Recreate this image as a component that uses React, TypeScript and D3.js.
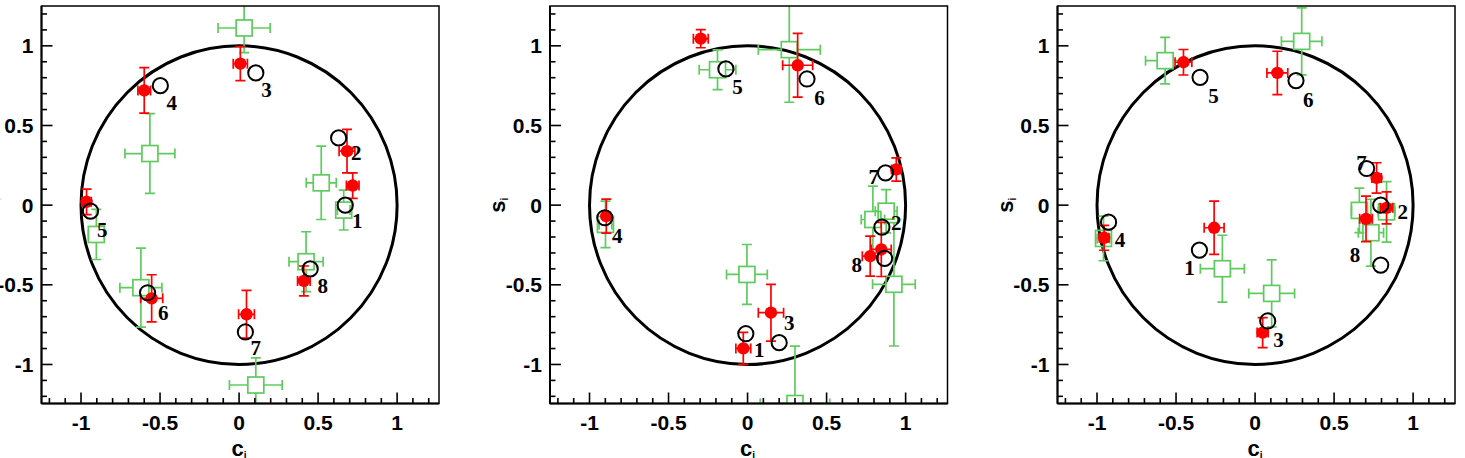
import React from "react";
import * as d3 from "d3";

// layout of the three frames
const W = 1465;
const H = 458;
const panelLeft = [41.5, 550, 1057.5];
const frameW = 397.5;
const frameTop = 6;
const frameBottom = 403.5;
const xDomain: [number, number] = [-1.25, 1.265];
const yDomain: [number, number] = [-1.245, 1.25];

const majorTicks = [-1, -0.5, 0, 0.5, 1];
const tickLabels = ["-1", "-0.5", "0", "0.5", "1"];
const minorTicks = [
  -1.2, -1.1, -0.9, -0.8, -0.7, -0.6, -0.4, -0.3, -0.2, -0.1, 0.1, 0.2, 0.3,
  0.4, 0.6, 0.7, 0.8, 0.9, 1.1, 1.2,
];

// open black circles (numbered 1..8): [c, s]
const open1: [number, number][] = [
  [0.672, 0.0], [0.63, 0.422], [0.106, 0.83], [-0.498, 0.75],
  [-0.94, -0.038], [-0.579, -0.55], [0.04, -0.796], [0.45, -0.4],
];
const open2: [number, number][] = [
  [-0.011, -0.807], [0.85, -0.138], [0.2, -0.863], [-0.903, -0.079],
  [-0.137, 0.855], [0.376, 0.792], [0.873, 0.203], [0.867, -0.334],
];
const open3: [number, number][] = [
  [-0.352, -0.282], [0.795, 0.0], [0.08, -0.727], [-0.927, -0.107],
  [-0.348, 0.802], [0.259, 0.782], [0.706, 0.23], [0.795, -0.376],
];

// number labels, placed next to the open circles: [c, s]
const numbers = ["1", "2", "3", "4", "5", "6", "7", "8"];
const label1: [number, number][] = [
  [0.747, -0.1], [0.742, 0.328], [0.174, 0.725], [-0.426, 0.642],
  [-0.865, -0.153], [-0.479, -0.675], [0.106, -0.894], [0.53, -0.508],
];
const label2: [number, number][] = [
  [0.074, -0.905], [0.941, -0.107], [0.264, -0.738], [-0.825, -0.194],
  [-0.063, 0.742], [0.455, 0.673], [0.799, 0.182], [0.691, -0.372],
];
const label3: [number, number][] = [
  [-0.415, -0.393], [0.934, -0.038], [0.148, -0.842], [-0.854, -0.219],
  [-0.263, 0.688], [0.337, 0.662], [0.674, 0.265], [0.632, -0.309],
];

// red filled points: [c, s, errC, errS]
const red1: [number, number, number, number][] = [
  [0.683, 0.339, 0.05, 0.136], [0.719, 0.123, 0.04, 0.08],
  [0.008, 0.888, 0.045, 0.107], [-0.6, 0.72, 0.04, 0.143],
  [-0.965, 0.021, 0.03, 0.08], [-0.553, -0.585, 0.07, 0.148],
  [0.047, -0.685, 0.05, 0.15], [0.41, -0.476, 0.04, 0.094],
];
const red2: [number, number, number, number][] = [
  [-0.296, 1.045, 0.047, 0.057], [0.317, 0.878, 0.095, 0.2],
  [0.941, 0.224, 0.03, 0.073], [-0.894, -0.069, 0.02, 0.107],
  [0.846, -0.278, 0.063, 0.17], [0.776, -0.32, 0.05, 0.125],
  [0.148, -0.675, 0.08, 0.178], [-0.027, -0.899, 0.047, 0.1],
];
const red3: [number, number, number, number][] = [
  [-0.453, 0.897, 0.053, 0.08], [0.141, 0.83, 0.066, 0.136],
  [0.769, 0.171, 0.03, 0.095], [0.832, -0.017, 0.04, 0.1],
  [0.702, -0.086, 0.04, 0.143], [-0.259, -0.142, 0.063, 0.167],
  [-0.955, -0.205, 0.03, 0.078], [0.048, -0.8, 0.035, 0.094],
];

// green open squares: [c, s, errC, errS]
const green1: [number, number, number, number][] = [
  [0.032, 1.112, 0.165, 0.155], [-0.564, 0.324, 0.158, 0.25],
  [0.52, 0.14, 0.095, 0.23], [0.662, -0.031, 0.04, 0.125],
  [-0.903, -0.184, 0.05, 0.157], [0.424, -0.355, 0.108, 0.188],
  [-0.621, -0.518, 0.133, 0.248], [0.106, -1.129, 0.167, 0.17],
];
const green2: [number, number, number, number][] = [
  [-0.19, 0.85, 0.116, 0.125], [0.264, 0.976, 0.196, 0.33],
  [0.793, -0.09, 0.074, 0.21], [0.877, -0.038, 0.069, 0.136],
  [-0.899, -0.121, 0.04, 0.146], [-0.004, -0.435, 0.129, 0.188],
  [0.926, -0.497, 0.135, 0.387], [0.3, -1.245, 0.22, 0.36],
];
const green3: [number, number, number, number][] = [
  [-0.569, 0.907, 0.124, 0.146], [0.295, 1.028, 0.128, 0.21],
  [0.66, -0.033, 0.05, 0.14], [0.832, -0.042, 0.053, 0.19],
  [0.733, -0.173, 0.08, 0.21], [-0.959, -0.209, 0.04, 0.14],
  [-0.207, -0.399, 0.139, 0.21], [0.105, -0.554, 0.145, 0.21],
];

const panels = [
  { open: open1, labels: label1, red: red1, green: green1 },
  { open: open2, labels: label2, red: red2, green: green2 },
  { open: open3, labels: label3, red: red3, green: green3 },
];

const RED = "#ff0000";
const GREEN = "#5fcb5f";
const SANS = "'Liberation Sans', Arial, sans-serif";
const SERIF = "'Liberation Serif', 'Times New Roman', serif";

function ErrorPoint({
  cx, cy, x1, x2, y1, y2, gap, color,
}: {
  cx: number; cy: number; x1: number; x2: number; y1: number; y2: number;
  gap: number; color: string;
}) {
  const cap = 5;
  return (
    <g stroke={color} strokeWidth={1.7} fill="none">
      <line x1={x1} y1={cy} x2={cx - gap} y2={cy} />
      <line x1={cx + gap} y1={cy} x2={x2} y2={cy} />
      <line x1={cx} y1={y1} x2={cx} y2={cy - gap} />
      <line x1={cx} y1={cy + gap} x2={cx} y2={y2} />
      <line x1={x1} y1={cy - cap} x2={x1} y2={cy + cap} />
      <line x1={x2} y1={cy - cap} x2={x2} y2={cy + cap} />
      <line x1={cx - cap} y1={y1} x2={cx + cap} y2={y1} />
      <line x1={cx - cap} y1={y2} x2={cx + cap} y2={y2} />
    </g>
  );
}

function Panel({ index }: { index: number }) {
  const p = panels[index];
  const left = panelLeft[index];
  const right = left + frameW;
  const x = d3.scaleLinear().domain(xDomain).range([left, right]);
  const y = d3.scaleLinear().domain(yDomain).range([frameBottom, frameTop]);
  const clipId = `frame-clip-${index}`;
  const sq = 8;

  return (
    <g>
      <defs>
        <clipPath id={clipId}>
          <rect x={left} y={frameTop} width={frameW} height={frameBottom - frameTop} />
        </clipPath>
      </defs>

      <g clipPath={`url(#${clipId})`}>
        {/* unit circle */}
        <ellipse
          cx={x(0)}
          cy={y(0)}
          rx={x(1) - x(0)}
          ry={y(0) - y(1)}
          fill="none"
          stroke="#000"
          strokeWidth={3}
        />

        {/* green squares */}
        {p.green.map(([c, s, ec, es], i) => (
          <g key={`g${i}`}>
            <ErrorPoint
              cx={x(c)} cy={y(s)} x1={x(c - ec)} x2={x(c + ec)}
              y1={y(s + es)} y2={y(s - es)} gap={sq} color={GREEN}
            />
            <rect
              x={x(c) - sq} y={y(s) - sq} width={2 * sq} height={2 * sq}
              fill="none" stroke={GREEN} strokeWidth={1.7}
            />
          </g>
        ))}

        {/* red filled points */}
        {p.red.map(([c, s, ec, es], i) => (
          <g key={`r${i}`}>
            <ErrorPoint
              cx={x(c)} cy={y(s)} x1={x(c - ec)} x2={x(c + ec)}
              y1={y(s + es)} y2={y(s - es)} gap={0} color={RED}
            />
            <circle cx={x(c)} cy={y(s)} r={6.2} fill={RED} />
          </g>
        ))}

        {/* black open circles */}
        {p.open.map(([c, s], i) => (
          <circle
            key={`o${i}`}
            cx={x(c)} cy={y(s)} r={7.6}
            fill="none" stroke="#000" strokeWidth={2}
          />
        ))}
      </g>

      {/* numbers */}
      {p.labels.map(([c, s], i) => (
        <text
          key={`l${i}`}
          x={x(c)}
          y={y(s)}
          dy="0.35em"
          textAnchor="middle"
          fontFamily={SERIF}
          fontWeight="bold"
          fontSize={21}
          fill="#000"
        >
          {numbers[i]}
        </text>
      ))}

      {/* frame */}
      <rect
        x={left} y={frameTop} width={frameW} height={frameBottom - frameTop}
        fill="none" stroke="#000" strokeWidth={1.5}
      />
      <line x1={left} y1={frameBottom} x2={right} y2={frameBottom} stroke="#000" strokeWidth={2} />
      <line x1={left} y1={frameTop} x2={left} y2={frameBottom} stroke="#000" strokeWidth={2} />

      {/* ticks, pointing inward */}
      <g stroke="#000" strokeWidth={1.6}>
        {majorTicks.map((t) => (
          <g key={`M${t}`}>
            <line x1={x(t)} y1={frameBottom} x2={x(t)} y2={frameBottom - 11} />
            <line x1={left} y1={y(t)} x2={left + 11} y2={y(t)} />
          </g>
        ))}
        {minorTicks.map((t) => (
          <g key={`m${t}`}>
            <line x1={x(t)} y1={frameBottom} x2={x(t)} y2={frameBottom - 5.5} />
            <line x1={left} y1={y(t)} x2={left + 5.5} y2={y(t)} />
          </g>
        ))}
      </g>

      {/* tick labels */}
      <g fontFamily={SANS} fontWeight="bold" fontSize={21} fill="#000">
        {majorTicks.map((t, i) => (
          <text key={`xl${t}`} x={x(t)} y={430} textAnchor="middle">
            {tickLabels[i]}
          </text>
        ))}
        {majorTicks.map((t, i) => (
          <text key={`yl${t}`} x={left - 8} y={y(t)} dy="0.36em" textAnchor="end">
            {tickLabels[i]}
          </text>
        ))}
      </g>

      {/* axis titles */}
      <text
        x={x(0)}
        y={456}
        textAnchor="middle"
        fontFamily={SANS}
        fontWeight="bold"
        fontSize={22}
        fill="#000"
      >
        c<tspan fontSize={10} dy={3}>i</tspan>
      </text>
      <text
        transform={`translate(${left - 45},${y(0)}) rotate(-90)`}
        textAnchor="middle"
        fontFamily={SANS}
        fontWeight="bold"
        fontSize={22}
        fill="#000"
      >
        s<tspan fontSize={10} dy={3}>i</tspan>
      </text>
    </g>
  );
}

export default function App() {
  return (
    <div style={{ position: "absolute", left: 0, top: 0, width: W, height: H, background: "#fff" }}>
      <svg width={W} height={H} viewBox={`0 0 ${W} ${H}`} style={{ display: "block" }}>
        <rect width={W} height={H} fill="#fff" />
        {[0, 1, 2].map((i) => (
          <Panel key={i} index={i} />
        ))}
      </svg>
    </div>
  );
}
